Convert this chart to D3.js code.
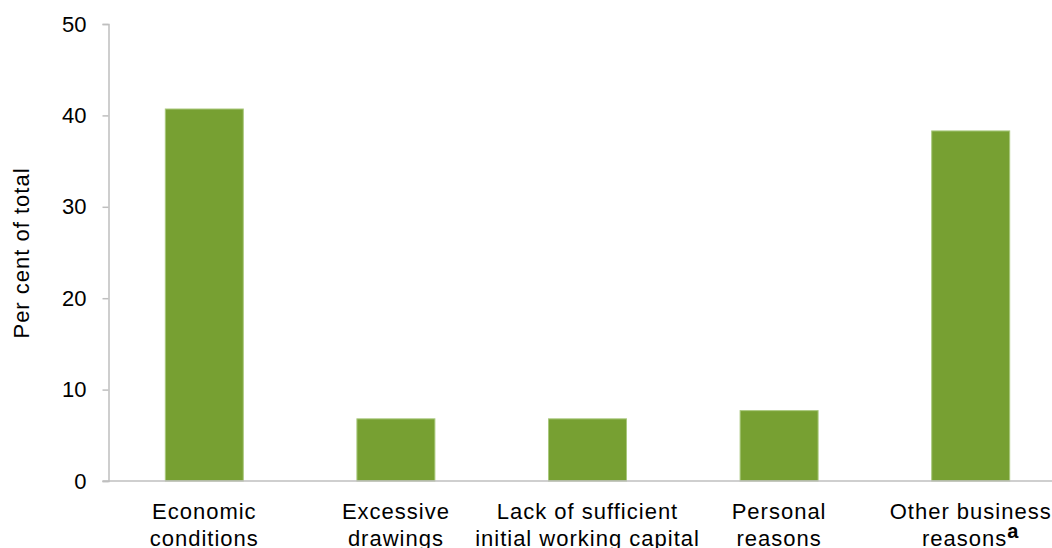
<!DOCTYPE html>
<html>
<head>
<meta charset="utf-8">
<script src="https://cdn.jsdelivr.net/npm/d3@7"></script>
<style>
  html, body { margin: 0; padding: 0; background: #ffffff; }
  svg { display: block; }
  text { font-family: "Liberation Sans", Arial, sans-serif; fill: #000; }
</style>
</head>
<body>
<svg id="chart" width="1052" height="548"></svg>
<script>
const categories = ["Economic conditions", "Excessive drawings", "Lack of sufficient initial working capital", "Personal reasons", "Other business reasons"];
const labelLines = [["Economic", "conditions"], ["Excessive", "drawings"], ["Lack of sufficient", "initial working capital"], ["Personal", "reasons"], ["Other business", "reasons"]];
const labelNotes = ["", "", "", "", "a"];
const values = [40.7, 6.8, 6.8, 7.7, 38.3];
const yTicks = [0, 10, 20, 30, 40, 50];
const yTitle = "Per cent of total";

(function () {
const svg = d3.select("#chart");
const mLeft = 108.5, mRight = 1066.5, mTop = 24, mBottom = 481;

const x = d3.scaleBand().domain(categories).range([mLeft, mRight]).paddingInner(0.593).paddingOuter(0.2965);
const y = d3.scaleLinear().domain([0, 50]).range([mBottom, mTop]);

const axisColor = "#bfbfbf";

// y axis
const yAxis = svg.append("g").attr("transform", `translate(${mLeft},0)`)
  .call(d3.axisLeft(y).tickValues(yTicks).tickSize(6).tickPadding(16).tickFormat(d3.format("d")));
yAxis.select(".domain").attr("stroke", axisColor).attr("stroke-width", 1.5);
yAxis.selectAll(".tick line").attr("stroke", axisColor).attr("stroke-width", 1.5);
yAxis.selectAll(".tick text").style("font-size", "22px").style("font-family", "Liberation Sans, Arial, sans-serif").attr("fill", "#000");

// bars
svg.append("g").selectAll("rect").data(categories).join("rect")
  .attr("x", d => x(d))
  .attr("width", x.bandwidth())
  .attr("y", (d, i) => y(values[i]))
  .attr("height", (d, i) => y(0) - y(values[i]))
  .attr("fill", "#77a032")
  .attr("stroke", "#a9c87d")
  .attr("stroke-width", 1);

// baseline
svg.append("line").attr("x1", mLeft - 6).attr("x2", 1052).attr("y1", y(0)).attr("y2", y(0))
  .attr("stroke", axisColor).attr("stroke-width", 1.5);

// x labels
const lab = svg.append("g").selectAll("text").data(categories).join("text")
  .attr("text-anchor", "middle")
  .style("font-size", "22px")
  .style("letter-spacing", "1px")
  .attr("transform", d => `translate(${x(d) + x.bandwidth() / 2},0)`);
lab.each(function(d, i) {
  const t = d3.select(this);
  labelLines[i].forEach((line, j) => {
    t.append("tspan").attr("x", 0).attr("y", 519 + j * 27).text(line);
    if (j === labelLines[i].length - 1 && labelNotes[i]) {
      t.append("tspan").attr("dy", -8).style("font-weight", "bold").style("font-size", "20px").text(labelNotes[i]);
    }
  });
});

// y title
svg.append("text")
  .attr("transform", `translate(29,253) rotate(-90)`)
  .attr("text-anchor", "middle")
  .style("font-size", "22px")
  .style("letter-spacing", "1px")
  .text(yTitle);
})();
</script>
</body>
</html>
